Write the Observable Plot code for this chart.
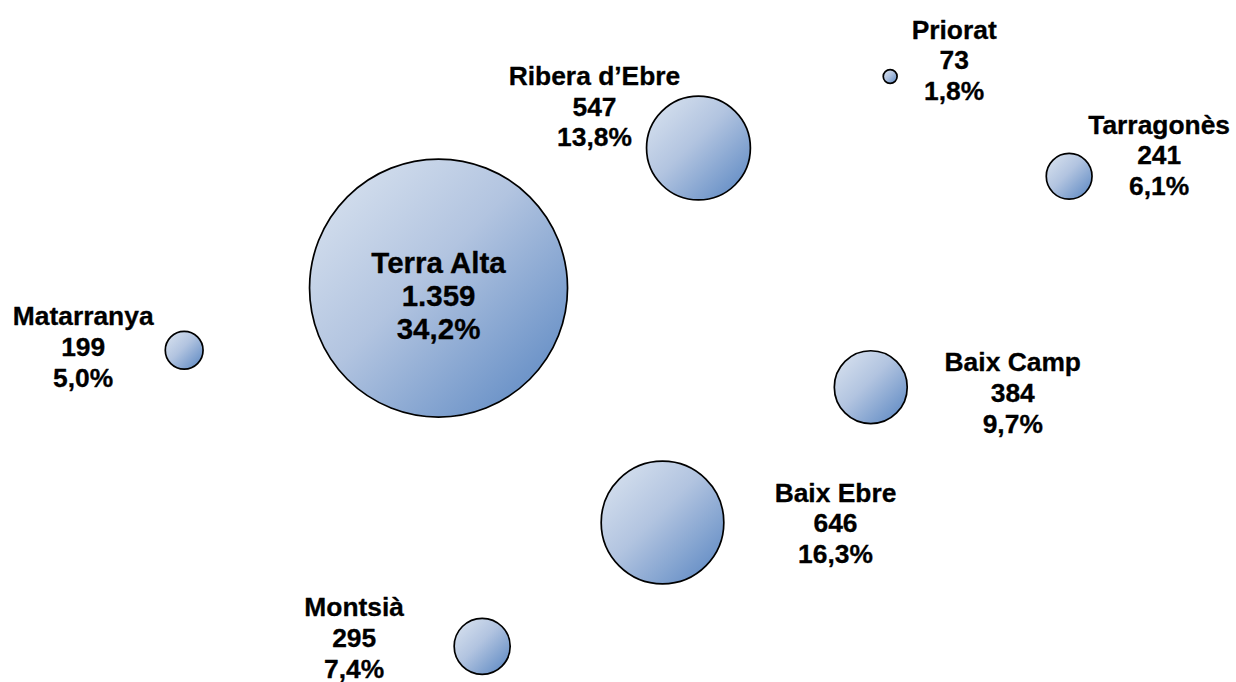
<!DOCTYPE html>
<html>
<head>
<meta charset="utf-8">
<script src="https://cdn.jsdelivr.net/npm/d3@7"></script>
<script src="https://cdn.jsdelivr.net/npm/@observablehq/plot@0.6"></script>
<style>
  html, body { margin: 0; padding: 0; background: #fff; }
  #chart svg { display: block; }
</style>
</head>
<body>
<div id="chart"></div>
<script>
// Data
const comarques = ["Terra Alta", "Ribera d’Ebre", "Priorat", "Tarragonès", "Matarranya", "Baix Camp", "Baix Ebre", "Montsià"];
const values = [1359, 547, 73, 241, 199, 384, 646, 295];
const shares = ["34,2%", "13,8%", "1,8%", "6,1%", "5,0%", "9,7%", "16,3%", "7,4%"];
const valueLabels = ["1.359", "547", "73", "241", "199", "384", "646", "295"];
// bubble position on hidden axes (0–10 units)
const posX = [3.544, 5.647, 7.198, 8.646, 1.486, 7.041, 5.356, 3.897];
const posY = [5.784, 7.837, 8.886, 7.422, 4.872, 4.330, 2.346, 0.531];

const data = comarques.map((c, i) => ({
  name: c, value: values[i], share: shares[i], valueLabel: valueLabels[i], x: posX[i], y: posY[i]
}));

// label placement (style: pixel offsets from bubble centre)
const labelLayout = {
  "Terra Alta": {dx: 0, dy: 7, size: 29.5, lh: 1.12},
  "Ribera d’Ebre": {dx: -104, dy: -42, size: 26.4, lh: 1.16},
  "Priorat": {dx: 64, dy: -17, size: 26.4, lh: 1.16},
  "Tarragonès": {dx: 90, dy: -22, size: 26.4, lh: 1.16},
  "Matarranya": {dx: -101, dy: -4, size: 26.4, lh: 1.16},
  "Baix Camp": {dx: 142, dy: 5, size: 26.4, lh: 1.16},
  "Baix Ebre": {dx: 173, dy: 0, size: 26.4, lh: 1.16},
  "Montsià": {dx: -128, dy: -9, size: 26.4, lh: 1.16}
};

const W = 1236, H = 682;
const fontFamily = "'Liberation Sans', Arial, Helvetica, sans-serif";

const labelMarks = data.map(d => {
  const L = labelLayout[d.name];
  return Plot.text([d], {
    x: "x", y: "y",
    text: v => `${v.name}\n${v.valueLabel}\n${v.share}`,
    dx: L.dx, dy: L.dy,
    fontSize: L.size,
    fontWeight: "bold",
    lineHeight: L.lh,
    fill: "#000",
    stroke: "#000",
    strokeWidth: 0.3,
    textAnchor: "middle"
  });
});

const plot = Plot.plot({
  width: W, height: H,
  margin: 0,
  style: {fontFamily, background: "#fff", overflow: "visible"},
  x: {domain: [0, 10], range: [0, W], axis: null},
  y: {domain: [0, 10], range: [H, 0], axis: null},
  r: {type: "linear", domain: [0, 1359], range: [0, 129]},
  marks: [
    Plot.dot(data, {x: "x", y: "y", r: "value", fill: "url(#bubbleGrad)", stroke: "#000", strokeWidth: 1.7, sort: {channel: "r", order: "descending"}}),
    ...labelMarks
  ]
});

const svg = d3.select(plot);
const defs = svg.insert("defs", ":first-child");
const grad = defs.append("linearGradient")
  .attr("id", "bubbleGrad")
  .attr("x1", 0).attr("y1", 0).attr("x2", 1).attr("y2", 1);
grad.append("stop").attr("offset", "0%").attr("stop-color", "#dde6f1");
grad.append("stop").attr("offset", "45%").attr("stop-color", "#b2c4e0");
grad.append("stop").attr("offset", "100%").attr("stop-color", "#5583c0");

document.getElementById("chart").appendChild(plot);
</script>
</body>
</html>
